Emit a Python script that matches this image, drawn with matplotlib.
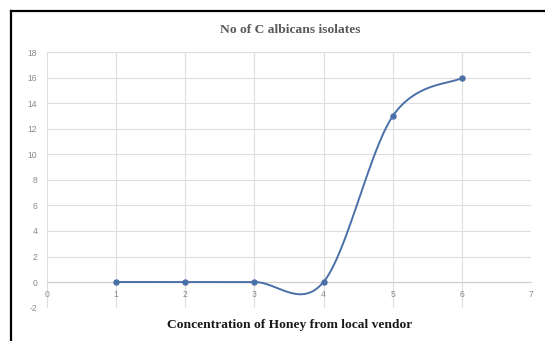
import numpy as np
import matplotlib
matplotlib.use("Agg")
import matplotlib.pyplot as plt
from matplotlib.lines import Line2D

# data
concentration = [1, 2, 3, 4, 5, 6]
isolates = [0, 0, 0, 0, 13, 16]
x_ticks = [0, 1, 2, 3, 4, 5, 6, 7]
y_ticks = [-2, 0, 2, 4, 6, 8, 10, 12, 14, 16, 18]


def smooth_line(xs, ys, n=60):
    # Catmull-Rom style smoothing (like spreadsheet "smoothed line")
    xs = np.asarray(xs, float)
    ys = np.asarray(ys, float)
    px = np.concatenate([[xs[0]], xs, [xs[-1]]])
    py = np.concatenate([[ys[0]], ys, [ys[-1]]])
    out_x, out_y = [], []
    t = np.linspace(0, 1, n)
    for i in range(1, len(px) - 2):
        p0x, p1x, p2x, p3x = px[i - 1:i + 3]
        p0y, p1y, p2y, p3y = py[i - 1:i + 3]
        c1x, c1y = p1x + (p2x - p0x) / 6, p1y + (p2y - p0y) / 6
        c2x, c2y = p2x - (p3x - p1x) / 6, p2y - (p3y - p1y) / 6
        bx = (1 - t)**3 * p1x + 3 * (1 - t)**2 * t * c1x + 3 * (1 - t) * t**2 * c2x + t**3 * p2x
        by = (1 - t)**3 * p1y + 3 * (1 - t)**2 * t * c1y + 3 * (1 - t) * t**2 * c2y + t**3 * p2y
        out_x.extend(bx)
        out_y.extend(by)
    return np.array(out_x), np.array(out_y)


plt.rcParams['font.family'] = ['Liberation Sans', 'DejaVu Sans']
plt.rcParams['axes.unicode_minus'] = False

fig = plt.figure(figsize=(5.45, 3.41), dpi=100)
ax = fig.add_axes([0.0862, 0.0982, 0.888, 0.748])

line_col = "#4a70a8"
sx, sy = smooth_line(concentration, isolates)
ax.plot(sx, sy, color=line_col, lw=1.4, zorder=3, solid_capstyle='round')
ax.plot(concentration, isolates, 'o', color=line_col, ms=3.6, zorder=4)

ax.set_xlim(0, 7)
ax.set_ylim(-2, 18)
ax.set_xticks(x_ticks)
ax.set_yticks(y_ticks)
ax.grid(True, color="#dedede", lw=0.8, zorder=0)
ax.set_axisbelow(True)

for side in ['top', 'right', 'left']:
    ax.spines[side].set_visible(False)
ax.spines['bottom'].set_position(('data', 0))
ax.spines['bottom'].set_color("#d0d0d0")
ax.spines['bottom'].set_linewidth(0.9)

ax.tick_params(axis='both', length=0, labelsize=6.2, labelcolor="#8a8a8a")
ax.tick_params(axis='y', pad=7)
ax.tick_params(axis='x', pad=6)

fig.text(0.532, 0.912, "No of C albicans isolates", ha='center', va='center',
         family='Liberation Serif', fontweight='bold', fontsize=9.7, color="#595959")
fig.text(0.532, 0.047, "Concentration of Honey from local vendor", ha='center', va='center',
         family='Liberation Serif', fontweight='bold', fontsize=9.7, color="#1a1a1a")

# outer frame (top and left edges)
fig.add_artist(Line2D([0.0205, 1.0], [0.968, 0.968], transform=fig.transFigure,
                      color='black', lw=1.6))
fig.add_artist(Line2D([0.0205, 0.0205], [0.0, 0.968], transform=fig.transFigure,
                      color='black', lw=1.6))

fig.savefig("out.png", dpi=100)
